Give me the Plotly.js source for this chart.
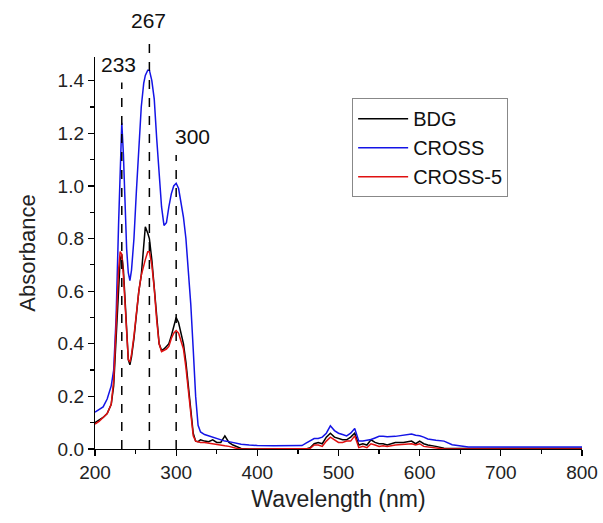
<!DOCTYPE html>
<html>
<head>
<meta charset="utf-8">
<script src="https://cdn.plot.ly/plotly-3.0.1.min.js"></script>
<style>html,body{margin:0;padding:0;background:#fff;}#chart{width:603px;height:523px;}</style>
</head>
<body>
<div id="chart"></div>
<script>
const wavelength = [200,205,210,215,220,223,226,229,231,233,235,237,239,241,243,245,248,251,254,257,260,262,265,267,270,273,276,279,282,285,288,291,294,297,300,303,306,309,312,315,318,321,324,327,330,335,340,345,350,355,360,365,370,375,380,390,400,420,440,455,460,465,470,475,480,485,490,495,500,505,510,515,520,525,530,535,540,545,550,555,560,570,580,590,595,600,605,610,620,630,640,650,660,680,700,720,740,760,780,800];

const bdg = [0.10,0.11,0.12,0.135,0.17,0.24,0.42,0.62,0.72,0.74,0.68,0.57,0.43,0.34,0.32,0.35,0.42,0.52,0.60,0.66,0.76,0.845,0.82,0.80,0.72,0.62,0.50,0.40,0.375,0.38,0.39,0.40,0.43,0.47,0.50,0.48,0.44,0.40,0.33,0.24,0.15,0.06,0.03,0.028,0.035,0.03,0.028,0.035,0.025,0.025,0.05,0.025,0.015,0.01,0.002,0,0,0,0,0,0,0.005,0.02,0.025,0.02,0.045,0.06,0.045,0.04,0.035,0.035,0.045,0.06,0.015,0.02,0.015,0.035,0.025,0.02,0.02,0.015,0.025,0.025,0.03,0.02,0.03,0.02,0.015,0.01,0.003,0.002,0.002,0.002,0.003,0.004,0.003,0.003,0.003,0.003,0.003];

const cross = [0.14,0.15,0.16,0.19,0.24,0.30,0.50,0.85,1.10,1.24,1.12,0.92,0.76,0.67,0.64,0.68,0.80,0.98,1.15,1.30,1.39,1.42,1.44,1.44,1.40,1.33,1.18,1.04,0.92,0.85,0.86,0.92,0.97,1.00,1.01,0.99,0.94,0.88,0.80,0.68,0.55,0.38,0.20,0.09,0.065,0.055,0.05,0.045,0.04,0.035,0.03,0.028,0.025,0.02,0.018,0.015,0.013,0.012,0.012,0.013,0.022,0.03,0.04,0.04,0.045,0.06,0.088,0.07,0.06,0.055,0.05,0.06,0.078,0.03,0.03,0.033,0.036,0.042,0.048,0.048,0.047,0.048,0.052,0.057,0.052,0.05,0.045,0.038,0.033,0.03,0.016,0.012,0.008,0.008,0.009,0.008,0.008,0.008,0.008,0.008];

const cross5 = [0.095,0.105,0.12,0.135,0.17,0.26,0.47,0.68,0.75,0.74,0.66,0.55,0.42,0.34,0.33,0.36,0.43,0.52,0.60,0.66,0.70,0.72,0.75,0.75,0.70,0.61,0.49,0.40,0.37,0.375,0.38,0.39,0.42,0.44,0.45,0.44,0.41,0.38,0.31,0.22,0.13,0.05,0.03,0.028,0.025,0.025,0.022,0.02,0.018,0.015,0.012,0.01,0.005,0.002,0,0,0,0,0,0,0,0.002,0.015,0.015,0.01,0.03,0.045,0.035,0.025,0.025,0.03,0.03,0.05,0.005,0.01,0.005,0.02,0.015,0.01,0.012,0.01,0.015,0.018,0.02,0.015,0.02,0.01,0.008,0.003,0,0,0,0,0,0,0,0,0,0,0];

const peakPositions = [233, 267, 300];
const peakLabels = ['233', '267', '300'];
const seriesNames = ['BDG', 'CROSS', 'CROSS-5'];
const seriesColors = ['#000000', '#1414e6', '#e01010'];
const seriesValues = [bdg, cross, cross5];

const FONT = 'Arial, "Liberation Sans", sans-serif';

const traces = seriesValues.map((vals, i) => ({
  x: wavelength, y: vals, type: 'scatter', mode: 'lines', name: seriesNames[i],
  line: {color: seriesColors[i], width: 1.5}
}));

// label offsets (data x) and heights / dashed-line tops (paper units)
const labelDx = [-3.5, -0.5, 20.5];
const labelY = [0.98, 1.094, 0.796];
const lineTop = [0.935, 1.038, 0.75];

const shapes = peakPositions.map((p, i) => ({
  type: 'line', xref: 'x', yref: 'paper', x0: p, x1: p, y0: 0, y1: lineTop[i],
  line: {color: '#000', width: 1.5, dash: 'dash'}
}));

const annotations = peakPositions.map((p, i) => ({
  x: p + labelDx[i], y: labelY[i], xref: 'x', yref: 'paper', text: peakLabels[i],
  showarrow: false, yanchor: 'middle', xanchor: 'center',
  font: {family: FONT, size: 21, color: '#111'}
}));

const layout = {
  width: 603, height: 523,
  margin: {l: 95, r: 21, t: 57, b: 74},
  paper_bgcolor: '#fff', plot_bgcolor: '#fff',
  showlegend: true,
  legend: {x: 0.528, y: 0.895, xanchor: 'left', yanchor: 'top', bordercolor: '#888', borderwidth: 1,
           bgcolor: 'rgba(255,255,255,0)', font: {family: FONT, size: 20, color: '#111'},
           tracegroupgap: 0, itemwidth: 50},
  xaxis: {
    range: [200, 800], tickmode: 'linear', tick0: 200, dtick: 100,
    showgrid: false, zeroline: false, showline: true, linecolor: '#000', linewidth: 1.2,
    ticks: 'outside', ticklen: 6, tickwidth: 1.2, tickcolor: '#000',
    minor: {dtick: 50, ticks: 'outside', ticklen: 4, tickwidth: 1.2, tickcolor: '#000', showgrid: false},
    tickfont: {family: FONT, size: 19, color: '#222'},
    title: {text: 'Wavelength (nm)', font: {family: FONT, size: 23, color: '#222'}, standoff: 8}
  },
  yaxis: {
    range: [0, 1.49], tickmode: 'linear', tick0: 0, dtick: 0.2, tickformat: '.1f',
    showgrid: false, zeroline: false, showline: true, linecolor: '#000', linewidth: 1.2,
    ticks: 'outside', ticklen: 6, tickwidth: 1.2, tickcolor: '#000',
    minor: {dtick: 0.1, ticks: 'outside', ticklen: 4, tickwidth: 1.2, tickcolor: '#000', showgrid: false},
    tickfont: {family: FONT, size: 19, color: '#222'},
    title: {text: 'Absorbance', font: {family: FONT, size: 22, color: '#222'}, standoff: 15}
  },
  shapes: shapes,
  annotations: annotations
};

Plotly.newPlot('chart', traces, layout, {displayModeBar: false, staticPlot: true});
</script>
</body>
</html>
